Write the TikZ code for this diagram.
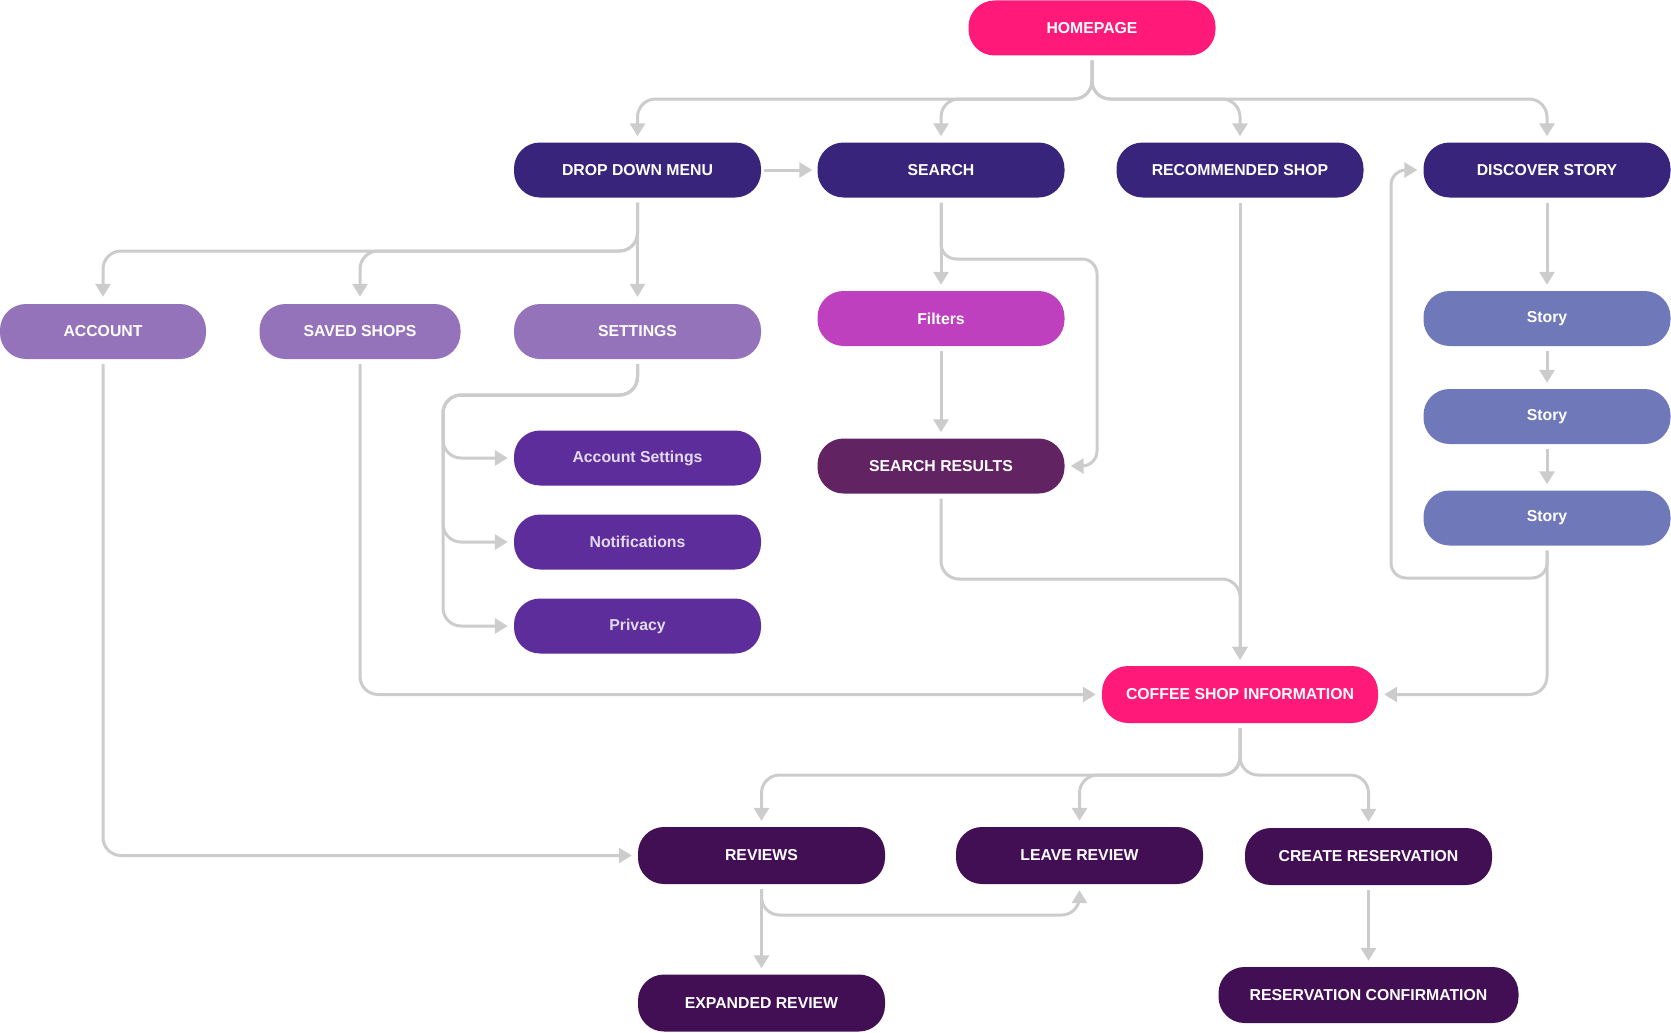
\documentclass[tikz,border=0pt]{standalone}
\usepackage{fontspec}
\setmainfont{Liberation Sans}
\usetikzlibrary{arrows.meta}
\definecolor{pinkc}{HTML}{FF1A7A}
\definecolor{indigoc}{HTML}{38247B}
\definecolor{lilacc}{HTML}{9473BB}
\definecolor{violetc}{HTML}{5C2D9B}
\definecolor{magentac}{HTML}{BE40BE}
\definecolor{plumc}{HTML}{622363}
\definecolor{storyc}{HTML}{6F78B9}
\definecolor{deepc}{HTML}{420F54}
\definecolor{linec}{HTML}{CCCCCC}
\definecolor{softtext}{HTML}{E4DAF0}
\begin{document}
\begin{tikzpicture}[x=1pt,y=-1pt,
  pill/.style={rounded corners=26pt, minimum width=247pt, minimum height=55pt, inner sep=0pt,
    text=white, font=\bfseries\fontsize{15.8}{19}\selectfont},
  arr/.style={draw=linec, line width=3pt, rounded corners=18pt,
    -{Triangle[width=15pt,length=13pt]}, shorten <=5pt, shorten >=6pt},
]
\useasboundingbox (0,0) rectangle (1671,1033);
% nodes
\node[pill, fill=pinkc] (home) at (1092,28) {HOMEPAGE};
\node[pill, fill=indigoc] (ddm) at (637.5,170) {DROP DOWN MENU};
\node[pill, fill=indigoc] (search) at (941,170) {SEARCH};
\node[pill, fill=indigoc] (rec) at (1240,170) {RECOMMENDED SHOP};
\node[pill, fill=indigoc] (disc) at (1547,170) {DISCOVER STORY};
\node[pill, fill=lilacc, minimum width=206pt] (account) at (103,331.5) {ACCOUNT};
\node[pill, fill=lilacc, minimum width=201pt] (saved) at (360,331.5) {SAVED SHOPS};
\node[pill, fill=lilacc] (settings) at (637.5,331.5) {SETTINGS};
\node[pill, fill=violetc, text=softtext] (accset) at (637.5,458) {Account Settings};
\node[pill, fill=violetc, text=softtext] (notif) at (637.5,542) {Notifications};
\node[pill, fill=violetc, text=softtext] (priv) at (637.5,626) {Privacy};
\node[pill, fill=magentac] (filters) at (941,318.5) {Filters};
\node[pill, fill=plumc] (results) at (941,466) {SEARCH RESULTS};
\node[pill, fill=storyc] (story1) at (1547,318.5) {Story};
\node[pill, fill=storyc] (story2) at (1547,416.5) {Story};
\node[pill, fill=storyc] (story3) at (1547,518) {Story};
\node[pill, fill=pinkc, minimum width=276pt, minimum height=57pt] (coffee) at (1240,694.5) {COFFEE SHOP INFORMATION};
\node[pill, fill=deepc, minimum height=57pt] (reviews) at (761.5,855.5) {REVIEWS};
\node[pill, fill=deepc, minimum height=57pt] (leave) at (1079.5,855.5) {LEAVE REVIEW};
\node[pill, fill=deepc, minimum height=57pt] (create) at (1368.5,856.5) {CREATE RESERVATION};
\node[pill, fill=deepc, minimum height=57pt] (expanded) at (761.5,1003) {EXPANDED REVIEW};
\node[pill, fill=deepc, minimum width=300pt, minimum height=56pt] (resconf) at (1368.5,995) {RESERVATION CONFIRMATION};
% helper coordinates
\coordinate (b1) at (1092,99);
\coordinate (b2) at (637.5,251);
\coordinate (b3) at (443,395);
\coordinate (b4) at (1097,259);
\coordinate (b5) at (1240,579);
\coordinate (b6) at (1391,578);
\coordinate (b7) at (1240,775);
\coordinate (b8) at (1079.5,915);
% connectors
\draw[arr] (home.south) -- (b1) -| (ddm.north);
\draw[arr] (home.south) -- (b1) -| (search.north);
\draw[arr] (home.south) -- (b1) -| (rec.north);
\draw[arr] (home.south) -- (b1) -| (disc.north);
\draw[arr, shorten <=3pt, shorten >=5pt] (ddm.east) -- (search.west);
\draw[arr, shorten >=7pt] (ddm.south) -- (settings.north);
\draw[arr, shorten >=7pt] (ddm.south) -- (b2) -| (account.north);
\draw[arr, shorten >=7pt] (ddm.south) -- (b2) -| (saved.north);
\draw[arr] (settings.south) |- (b3) |- (accset.west);
\draw[arr] (settings.south) |- (b3) |- (notif.west);
\draw[arr] (settings.south) |- (b3) |- (priv.west);
\draw[arr] (search.south) -- (filters.north);
\draw[arr, rounded corners=15pt] (search.south) |- (b4) |- (results.east);
\draw[arr] (filters.south) -- (results.north);
\draw[arr] (results.south) |- (b5) -- (coffee.north);
\draw[arr] (rec.south) -- (coffee.north);
\draw[arr] (disc.south) -- (story1.north);
\draw[arr] (story1.south) -- (story2.north);
\draw[arr] (story2.south) -- (story3.north);
\draw[arr, rounded corners=15pt] (story3.south) |- (b6) |- (disc.west);
\draw[arr] (story3.south) |- (coffee.east);
\draw[arr] (saved.south) |- (coffee.west);
\draw[arr] (account.south) |- (reviews.west);
\draw[arr] (coffee.south) -- (b7) -| (reviews.north);
\draw[arr] (coffee.south) -- (b7) -| (leave.north);
\draw[arr] (coffee.south) -- (b7) -| (create.north);
\draw[arr] (reviews.south) -- (expanded.north);
\draw[arr] (reviews.south) |- (b8) -- (leave.south);
\draw[arr] (create.south) -- (resconf.north);
\end{tikzpicture}
\end{document}
